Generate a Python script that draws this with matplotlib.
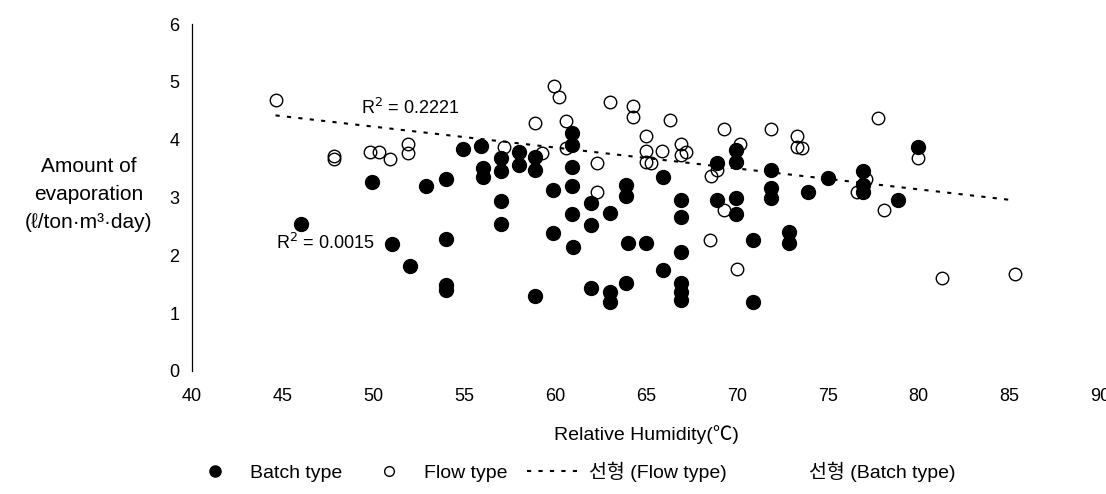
import numpy as np
import matplotlib
matplotlib.use('Agg')
import matplotlib.pyplot as plt
from matplotlib.lines import Line2D

plt.rcParams['font.family'] = ['Liberation Sans', 'Noto Sans CJK KR', 'DejaVu Sans']

# batch type (filled dots)
batch_x = [46.0, 49.9, 51.0, 52.0, 52.9, 54.0, 54.0, 54.0, 54.0, 54.9,
           55.9, 56.0, 56.0, 57.0, 57.0, 57.0, 57.0, 58.0, 58.0, 58.9,
           58.9, 58.9, 59.9, 59.9, 60.9, 60.9, 60.9, 60.9, 60.9, 61.0,
           61.95, 61.95, 61.95, 63.0, 63.0, 63.0, 63.9, 63.9, 64.0, 63.9,
           65.0, 65.95, 65.95, 66.9, 66.9, 66.9, 66.9, 66.9, 66.9, 68.9,
           68.9, 69.96, 69.96, 69.96, 69.96, 70.9, 70.9, 71.9, 71.9, 71.9,
           72.9, 72.9, 73.9, 75.0, 76.97, 76.97, 76.97, 78.9, 79.96]
batch_y = [2.55, 3.27, 2.20, 1.82, 3.20, 3.32, 2.28, 1.49, 1.40, 3.84,
           3.89, 3.51, 3.35, 3.68, 3.45, 2.94, 2.54, 3.79, 3.56, 3.70,
           3.47, 1.29, 3.13, 2.38, 4.11, 3.91, 3.53, 3.20, 2.71, 2.15,
           2.91, 2.53, 1.43, 2.74, 1.37, 1.20, 3.22, 3.02, 2.22, 1.53,
           2.22, 3.36, 1.74, 2.95, 2.66, 2.06, 1.52, 1.37, 1.23, 3.60,
           2.96, 3.82, 3.62, 2.99, 2.72, 2.27, 1.20, 3.48, 3.16, 2.99,
           2.41, 2.21, 3.10, 3.33, 3.45, 3.22, 3.10, 2.95, 3.87]

# flow type (open circles)
flow_x = [44.6, 47.8, 47.8, 49.8, 50.3, 50.9, 51.9, 51.9, 57.2, 58.9,
          59.3, 59.95, 60.2, 60.6, 60.6, 62.3, 62.3, 63.0, 64.3, 64.3,
          65.0, 65.0, 65.0, 65.3, 65.9, 66.3, 66.9, 67.2, 66.9, 68.5,
          68.6, 68.9, 69.3, 69.3, 70.0, 70.2, 71.9, 73.3, 73.3, 73.6,
          76.6, 77.1, 77.8, 78.1, 79.96, 81.3, 85.3]
flow_y = [4.68, 3.72, 3.66, 3.78, 3.78, 3.66, 3.92, 3.77, 3.87, 4.28,
          3.77, 4.93, 4.74, 4.32, 3.86, 3.60, 3.10, 4.66, 4.59, 4.40,
          4.07, 3.80, 3.61, 3.60, 3.80, 4.34, 3.93, 3.79, 3.74, 2.26,
          3.38, 3.48, 4.19, 2.79, 1.76, 3.93, 4.18, 4.07, 3.88, 3.85,
          3.09, 3.32, 4.38, 2.78, 3.68, 1.60, 1.68]

# linear trend of flow type, end points
trend_x = [44.6, 85.3]
trend_y = [4.42, 2.95]

fig = plt.figure(figsize=(11.06, 4.94), dpi=100)
ax = fig.add_axes([0.1736, 0.249, 0.821, 0.7024])

ax.plot(trend_x, trend_y, color='black', lw=1.5, dashes=(2, 3.5), zorder=1)
ax.plot(batch_x, batch_y, 'o', ms=10, color='black', zorder=2)
ax.plot(flow_x, flow_y, 'o', ms=9, mfc='none', mec='black', mew=1.0, zorder=3)

ax.text(49.3, 4.55, 'R$^2$ = 0.2221', fontsize=13, va='center', ha='left')
ax.text(44.6, 2.21, 'R$^2$ = 0.0015', fontsize=13, va='center', ha='left')

ax.set_xlim(40, 90)
ax.set_ylim(0, 6)
ax.set_xticks(np.arange(40, 91, 5))
ax.set_yticks(np.arange(0, 7, 1))
ax.tick_params(length=0, labelsize=13)
ax.tick_params(axis='x', pad=12)
ax.tick_params(axis='y', pad=9)
for s in ['top', 'right', 'bottom']:
    ax.spines[s].set_visible(False)
ax.spines['left'].set_linewidth(0.9)

ax.set_xlabel('Relative Humidity(\u2103)', fontsize=14, labelpad=15)
fig.text(0.08, 0.607, 'Amount of\nevaporation\n(\u2113/ton\u00b7m\u00b3\u00b7day)',
         fontsize=15, ha='center', va='center', multialignment='center',
         linespacing=1.6)

handles = [
    Line2D([], [], ls='none', marker='o', ms=8, color='black'),
    Line2D([], [], ls='none', marker='o', ms=7, mfc='none', mec='black', mew=1.0),
    Line2D([], [], color='black', lw=1.5, dashes=(2, 3.5)),
    Line2D([], [], color='white', lw=1.5),
]
labels = ['Batch type', 'Flow type', '선형 (Flow type)', '선형 (Batch type)']
fig.legend(handles, labels, loc='center', bbox_to_anchor=(0.517, 0.045),
           ncol=4, frameon=False, fontsize=14, handlelength=2.8,
           handletextpad=0.4, columnspacing=1.0)

fig.savefig('out.png', dpi=100)
